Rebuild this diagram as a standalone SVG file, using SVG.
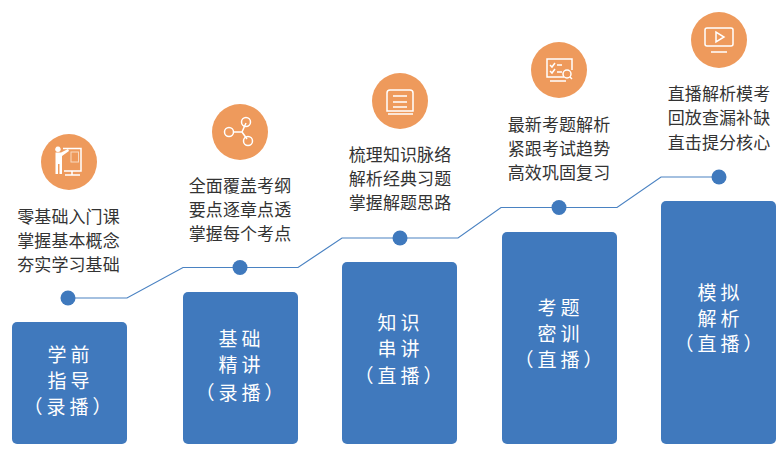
<svg xmlns="http://www.w3.org/2000/svg" width="780" height="459" viewBox="0 0 780 459">
<style>
text{font-family:"Noto Sans CJK SC","Liberation Sans",sans-serif}
.d{font-size:17px;fill:#333;text-anchor:middle;letter-spacing:.1px}
.b{font-size:19px;fill:#fff;text-anchor:middle;letter-spacing:4px}
.box{fill:#4079bd}
.c{fill:#ee9a5c}
.dot{fill:#3f79bd}
.i{fill:none;stroke:#fff;stroke-width:1.500}
.f{fill:#fff}
</style>
<rect width="780" height="459" fill="#fff"/>
<g id="connectors"><path d="M68 298H127L183 267.500H240H298L342 238H400H458L501 207.500H559H617L661 177H719" fill="none" stroke="#4a82c2" stroke-width="1.200"/></g>
<g id="step1">
<circle class="dot" cx="68" cy="298" r="7.500"/>
<circle class="c" cx="69" cy="162" r="28"/>
<path class="i" d="M63 148.500H81V171H64M72 171V175M65 175H80"/><path class="f" d="M58 146.500a2.800 2.800 0 1 1-.1 0ZM55.500 152.500H61L68 149L69 151L62 156V174H59.500V164H58V174H55.500Z"/><rect x="71" y="152" width="7.500" height="10" fill="none" stroke="#f8d9c0" stroke-width="1"/>
<text class="d"><tspan x="68.500" y="223">零基础入门课</tspan><tspan x="68.500" y="247">掌握基本概念</tspan><tspan x="68.500" y="271">夯实学习基础</tspan></text>
<rect class="box" x="12" y="322" width="115" height="122" rx="5"/>
<text class="b"><tspan x="70.500" y="362">学前</tspan><tspan x="70.500" y="388">指导</tspan><tspan x="69.500" y="414">（录播）</tspan></text>
</g>
<g id="step2">
<circle class="dot" cx="240" cy="267.500" r="7.500"/>
<circle class="c" cx="240" cy="132" r="28"/>
<path class="i" d="M234 132H242L246 123M242 132L247 139"/><circle class="i" cx="229" cy="132" r="4.500"/><circle class="i" cx="246" cy="122" r="4.500"/><circle class="i" cx="248" cy="141" r="4.500"/>
<text class="d"><tspan x="240" y="192">全面覆盖考纲</tspan><tspan x="240" y="216">要点逐章点透</tspan><tspan x="240" y="240">掌握每个考点</tspan></text>
<rect class="box" x="183" y="292" width="115" height="152" rx="5"/>
<text class="b"><tspan x="241.500" y="346">基础</tspan><tspan x="241.500" y="372">精讲</tspan><tspan x="241.500" y="400">（录播）</tspan></text>
</g>
<g id="step3">
<circle class="dot" cx="400" cy="238" r="7.500"/>
<circle class="c" cx="400" cy="101" r="28"/>
<path class="i" d="M387 111V93Q387 90 390 90H410Q413 90 413 93V111ZM393 96H407M393 102H407M393 107H407M388 114H413"/>
<text class="d"><tspan x="400" y="161">梳理知识脉络</tspan><tspan x="400" y="185">解析经典习题</tspan><tspan x="400" y="209">掌握解题思路</tspan></text>
<rect class="box" x="342" y="262" width="115" height="182" rx="5"/>
<text class="b"><tspan x="400.500" y="330">知识</tspan><tspan x="400.500" y="356">串讲</tspan><tspan x="400.500" y="383">（直播）</tspan></text>
</g>
<g id="step4">
<circle class="dot" cx="559" cy="207.500" r="7.500"/>
<circle class="c" cx="559" cy="70" r="28"/>
<path class="i" d="M564 77H547V59H572V70M550 81H566M550 65L552 67L555 63M557 65H562M550 71L552 73L555 69M557 72H562"/><circle class="i" cx="567" cy="74" r="4"/><path class="i" d="M570 77L572 79"/>
<text class="d"><tspan x="559" y="131">最新考题解析</tspan><tspan x="559" y="155">紧跟考试趋势</tspan><tspan x="559" y="179">高效巩固复习</tspan></text>
<rect class="box" x="502" y="232" width="115" height="212" rx="5"/>
<text class="b"><tspan x="560.500" y="315">考题</tspan><tspan x="560.500" y="341">密训</tspan><tspan x="560.500" y="367">（直播）</tspan></text>
</g>
<g id="step5">
<circle class="dot" cx="719" cy="177" r="7.500"/>
<circle class="c" cx="719" cy="40" r="28"/>
<rect class="i" x="705" y="28" width="28" height="18" rx="2"/><path class="i" d="M716 32V42L724 37ZM711 52H727"/>
<text class="d"><tspan x="719" y="100">直播解析模考</tspan><tspan x="719" y="124">回放查漏补缺</tspan><tspan x="719" y="149">直击提分核心</tspan></text>
<rect class="box" x="661" y="201" width="115" height="243" rx="5"/>
<text class="b"><tspan x="720.500" y="300">模拟</tspan><tspan x="720.500" y="326">解析</tspan><tspan x="720.500" y="351">（直播）</tspan></text>
</g>
</svg>
